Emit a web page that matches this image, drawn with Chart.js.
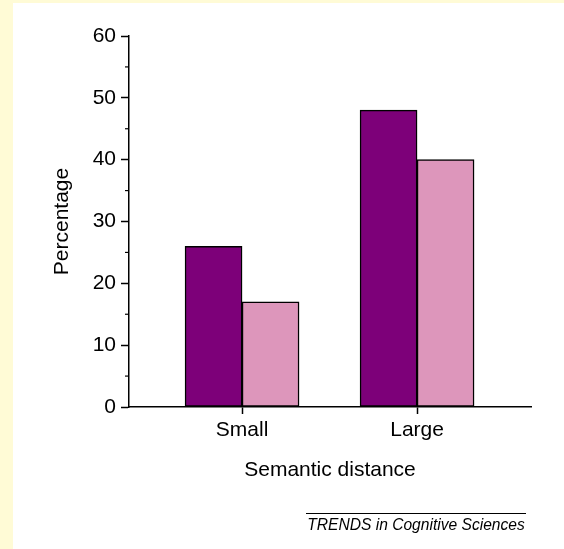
<!DOCTYPE html>
<html>
<head>
<meta charset="utf-8">
<script src="https://cdn.jsdelivr.net/npm/chart.js@4"></script>
<style>
  html, body { margin: 0; padding: 0; }
  body { width: 564px; height: 549px; background: #fffbd6; position: relative; overflow: hidden; }
  #panel { position: absolute; left: 13px; top: 3px; right: 0; bottom: 0; background: #fff; }
  #wrap { position: absolute; left: 0; top: 0; width: 564px; height: 549px; }
  #source {
    position: absolute; left: 306px; top: 513px; width: 220px;
    border-top: 1px solid #000; padding-top: 2px; white-space: nowrap;
    font: italic 15.6px "Liberation Sans", Arial, sans-serif; line-height: 18px;
    text-align: center; color: #000;
  }
</style>
</head>
<body>
<div id="panel"></div>
<div id="wrap"><canvas id="myChart"></canvas></div>
<div id="source">TRENDS in Cognitive Sciences</div>

<script>
// data
const categories = ["Small", "Large"];
const darkValues = [26, 48];
const lightValues = [17, 40];
const yTicks = [0, 10, 20, 30, 40, 50, 60];
const yMinor = [5, 15, 25, 35, 45, 55];

const font = "'Liberation Sans', Arial, sans-serif";

// short minor ticks on the y axis
const minorTicks = {
  id: 'minorTicks',
  afterDraw(chart) {
    const ctx = chart.ctx;
    const y = chart.scales.y;
    ctx.save();
    ctx.strokeStyle = '#000';
    ctx.lineWidth = 1.2;
    yMinor.forEach(v => {
      const py = y.getPixelForValue(v);
      ctx.beginPath();
      ctx.moveTo(chart.chartArea.left - 4, py);
      ctx.lineTo(chart.chartArea.left, py);
      ctx.stroke();
    });
    ctx.restore();
  }
};

const data = {
  datasets: [{
    data: darkValues.map((v, i) => ({ x: i + 1, y: v })),
    backgroundColor: '#7d0079',
    borderColor: '#000',
    borderWidth: 1.5,
    borderSkipped: false
  }, {
    data: lightValues.map((v, i) => ({ x: i + 1, y: v })),
    backgroundColor: '#dd96bb',
    borderColor: '#000',
    borderWidth: 1.5,
    borderSkipped: false
  }]
};

const config = {
  type: 'bar',
  data: data,
  plugins: [minorTicks],
  options: {
    responsive: true,
    maintainAspectRatio: false,
    animation: false,
    layout: { padding: { top: 36, right: 33, left: 0, bottom: 0 } },
    plugins: { legend: { display: false }, tooltip: { enabled: false } },
    datasets: { bar: { barThickness: 57 } },
    scales: {
      x: {
        type: 'linear',
        min: 0.354,
        max: 2.651,
        offset: false,
        afterBuildTicks: s => { s.ticks = categories.map((c, i) => ({ value: i + 1 })); },
        afterFit: s => { s.height = 142; },
        grid: { display: true, drawOnChartArea: false, offset: false, tickLength: 7, tickWidth: 1.5, tickColor: '#000' },
        border: { color: '#000', width: 1.5 },
        ticks: {
          color: '#000', padding: 4,
          font: { family: font, size: 21 },
          callback: v => categories[v - 1]
        },
        title: {
          display: true, text: 'Semantic distance', color: '#000',
          font: { family: font, size: 21 },
          padding: { bottom: 66 }
        }
      },
      y: {
        min: 0,
        max: 60,
        afterBuildTicks: s => { s.ticks = yTicks.map(v => ({ value: v })); },
        afterFit: s => { s.width = 129; },
        grid: { drawOnChartArea: false, tickLength: 8, tickWidth: 1.5, tickColor: '#000' },
        border: { color: '#000', width: 1.5 },
        ticks: { color: '#000', padding: 5, font: { family: font, size: 21 } },
        title: {
          display: true, text: 'Percentage', color: '#000',
          font: { family: font, size: 21 },
          padding: { top: 50 }
        }
      }
    }
  }
};

const myChart = new Chart(document.getElementById('myChart'), config);
</script>
</body>
</html>
